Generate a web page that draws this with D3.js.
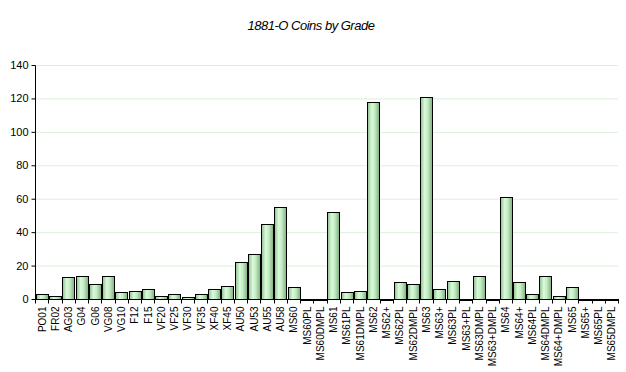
<!DOCTYPE html>
<html>
<head>
<meta charset="utf-8">
<script src="https://cdn.jsdelivr.net/npm/d3@7"></script>
<style>
  body { margin: 0; background: #fff; }
  text { font-family: "Liberation Sans", Arial, sans-serif; }
</style>
</head>
<body>
<div id="chart"></div>
<script>
const grades = ["PO01","FR02","AG03","G04","G06","VG08","VG10","F12","F15","VF20","VF25","VF30","VF35","XF40","XF45",
  "AU50","AU53","AU55","AU58","MS60","MS60PL","MS60DMPL","MS61","MS61PL","MS61DMPL","MS62","MS62+","MS62PL","MS62DMPL",
  "MS63","MS63+","MS63PL","MS63+PL","MS63DMPL","MS63+DMPL","MS64","MS64+","MS64PL","MS64DMPL","MS64+DMPL",
  "MS65","MS65+","MS65PL","MS65DMPL"];
const counts = [3,2,13,14,9,14,4,5,6,2,3,1,3,6,8,
  22,27,45,55,7,0,0,52,4,5,118,0,10,9,
  121,6,11,0,14,0,61,10,3,14,2,
  7,0,0,0];
const yTicks = [0,20,40,60,80,100,120,140];

const W = 626, H = 372;
const margin = { top: 65, right: 8, bottom: 73, left: 35 };
const width = W - margin.left - margin.right;
const height = H - margin.top - margin.bottom;

const root = d3.select("#chart").append("svg")
  .attr("width", W)
  .attr("height", H);

// bar shading
const grad = root.append("defs").append("linearGradient")
  .attr("id", "barFill")
  .attr("x1", "0%").attr("x2", "100%").attr("y1", "0%").attr("y2", "0%");
grad.append("stop").attr("offset", "0%").attr("stop-color", "#8cbf8c");
grad.append("stop").attr("offset", "35%").attr("stop-color", "#dcfadc");
grad.append("stop").attr("offset", "60%").attr("stop-color", "#c4ecc4");
grad.append("stop").attr("offset", "100%").attr("stop-color", "#7cae7c");

// Title
root.append("text")
  .attr("x", 311)
  .attr("y", 30)
  .attr("text-anchor", "middle")
  .attr("font-size", "13px")
  .attr("font-style", "italic")
  .attr("letter-spacing", "-0.5px")
  .text("1881-O Coins by Grade");

const svg = root.append("g")
  .attr("transform", `translate(${margin.left},${margin.top})`);

const x = d3.scaleBand()
  .domain(grades)
  .range([0, width])
  .paddingInner(0.12)
  .paddingOuter(0.06);

const y = d3.scaleLinear()
  .domain([0, 140])
  .range([height, 0]);

// horizontal gridlines
svg.selectAll(".grid")
  .data(yTicks.slice(1))
  .join("line")
  .attr("x1", 0)
  .attr("x2", width)
  .attr("y1", d => y(d) + 0.5)
  .attr("y2", d => y(d) + 0.5)
  .attr("stroke", "#dcf0dc")
  .attr("stroke-width", 1);

// bars
svg.selectAll(".bar")
  .data(grades.map((g, i) => ({ g, v: counts[i] })))
  .join("rect")
  .attr("x", d => Math.round(x(d.g)) + 0.5)
  .attr("y", d => Math.round(y(d.v)) + 0.5)
  .attr("width", Math.round(x.bandwidth()))
  .attr("height", d => Math.max(height - Math.round(y(d.v)), 1))
  .attr("fill", "url(#barFill)")
  .attr("stroke", "#000")
  .attr("stroke-width", 1);

// y axis
const yAxis = d3.axisLeft(y)
  .tickValues(yTicks)
  .tickSize(4)
  .tickPadding(3);

svg.append("g")
  .attr("transform", "translate(0.5,0)")
  .call(yAxis)
  .call(g => g.select(".domain").attr("stroke", "#000").attr("d", `M0,${height + 0.5}V0.5`))
  .call(g => g.selectAll(".tick line").attr("stroke", "#000"))
  .call(g => g.selectAll(".tick text").attr("font-size", "11px").attr("fill", "#000")
    .attr("font-family", "Liberation Sans, Arial, sans-serif"));

// x axis
const xg = svg.append("g")
  .attr("transform", `translate(0,${height + 0.5})`);

xg.append("line")
  .attr("x1", 0).attr("x2", width)
  .attr("stroke", "#000");

// tick marks between bands
const step = x.step();
xg.selectAll(".xtick")
  .data(d3.range(grades.length + 1))
  .join("line")
  .attr("x1", i => Math.round(i * step) + 0.5)
  .attr("x2", i => Math.round(i * step) + 0.5)
  .attr("y1", 0)
  .attr("y2", 4)
  .attr("stroke", "#000");

xg.selectAll(".xlabel")
  .data(grades)
  .join("text")
  .attr("transform", d => `translate(${x(d) + x.bandwidth() / 2 + 4},7) rotate(-90)`)
  .attr("text-anchor", "end")
  .attr("font-size", "10px")
  .attr("fill", "#000")
  .text(d => d);
</script>
</body>
</html>
